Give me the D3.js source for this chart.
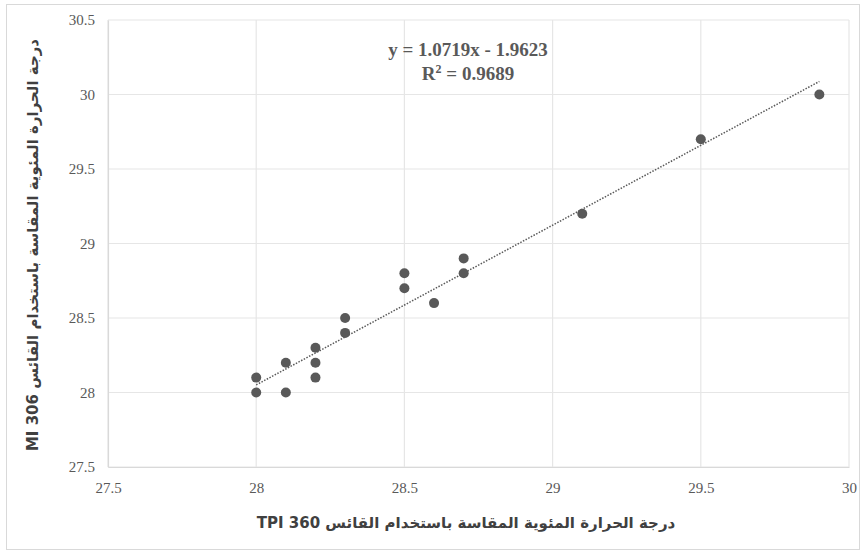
<!DOCTYPE html>
<html>
<head>
<meta charset="utf-8">
<script src="https://cdn.jsdelivr.net/npm/d3@7"></script>
<style>
  body { margin: 0; background: #fff; }
</style>
</head>
<body>
<div id="chart"></div>
<script>
// data
var tpi = [28, 28, 28.1, 28.1, 28.2, 28.2, 28.2, 28.3, 28.3, 28.5, 28.5, 28.6, 28.7, 28.7, 29.1, 29.5, 29.9];
var mi  = [28, 28.1, 28, 28.2, 28.1, 28.2, 28.3, 28.4, 28.5, 28.7, 28.8, 28.6, 28.8, 28.9, 29.2, 29.7, 30];
var xTicks = [27.5, 28, 28.5, 29, 29.5, 30];
var yTicks = [27.5, 28, 28.5, 29, 29.5, 30, 30.5];
var slope = 1.0719, intercept = -1.9623;
var eqText = "y = 1.0719x - 1.9623";
var r2Text = "0.9689";
var xTitle = "درجة الحرارة المئوية المقاسة باستخدام القائس TPI 360";
var yTitle = "درجة الحرارة المئوية المقاسة باستخدام القائس MI 306";

var svgWidth = 865, svgHeight = 551;
var margin = {top: 20, right: 16, bottom: 84, left: 108};
var chartWidth = svgWidth - margin.left - margin.right;
var chartHeight = svgHeight - margin.top - margin.bottom;

var svg = d3.select("#chart").append("svg")
  .attr("width", svgWidth)
  .attr("height", svgHeight);

// outer frame
svg.append("rect")
  .attr("x", 6.5).attr("y", 4.5)
  .attr("width", 853).attr("height", 545)
  .attr("fill", "#fff").attr("stroke", "#d9d9d9");

var chartGroup = svg.append("g")
  .attr("transform", `translate(${margin.left}, ${margin.top})`);

var xScale = d3.scaleLinear().domain([27.5, 30]).range([0, chartWidth]);
var yScale = d3.scaleLinear().domain([27.5, 30.5]).range([chartHeight, 0]);

// gridlines
chartGroup.append("g")
  .selectAll("line").data(xTicks).enter().append("line")
  .attr("x1", d => xScale(d)).attr("x2", d => xScale(d))
  .attr("y1", 0).attr("y2", chartHeight)
  .attr("stroke", "#e6e6e6").attr("stroke-width", 1.2);

chartGroup.append("g")
  .selectAll("line").data(yTicks).enter().append("line")
  .attr("x1", 0).attr("x2", chartWidth)
  .attr("y1", d => yScale(d)).attr("y2", d => yScale(d))
  .attr("stroke", "#e6e6e6").attr("stroke-width", 1.2);

// axes
var xAxis = d3.axisBottom(xScale).tickValues(xTicks).tickSize(0).tickPadding(15).tickFormat(d3.format("~g"));
var yAxis = d3.axisLeft(yScale).tickValues(yTicks).tickSize(0).tickPadding(13).tickFormat(d3.format("~g"));

var gx = chartGroup.append("g")
  .attr("transform", `translate(0, ${chartHeight})`)
  .call(xAxis);
var gy = chartGroup.append("g").call(yAxis);

[gx, gy].forEach(function(g) {
  g.select(".domain").attr("stroke", "#d9d9d9").attr("stroke-width", 1.2);
  g.selectAll("text")
    .attr("fill", "#595959")
    .style("font-family", "'Liberation Serif', 'DejaVu Serif', serif")
    .style("font-size", "15px");
});

// trendline
var xMin = d3.min(tpi), xMax = d3.max(tpi);
chartGroup.append("line")
  .attr("x1", xScale(xMin)).attr("y1", yScale(slope * xMin + intercept))
  .attr("x2", xScale(xMax)).attr("y2", yScale(slope * xMax + intercept))
  .attr("stroke", "#595959")
  .attr("stroke-width", 1.5)
  .attr("stroke-dasharray", "1.5,1.5");

// points
chartGroup.selectAll("circle")
  .data(tpi)
  .enter()
  .append("circle")
  .attr("cx", d => xScale(d))
  .attr("cy", (d, i) => yScale(mi[i]))
  .attr("r", 5)
  .attr("fill", "#595959");

// equation label
svg.append("text")
  .attr("x", 468).attr("y", 56)
  .attr("text-anchor", "middle")
  .attr("fill", "#595959")
  .style("font-family", "'Liberation Serif', 'DejaVu Serif', serif")
  .style("font-size", "19px")
  .style("font-weight", "bold")
  .text(eqText);

var r2 = svg.append("text")
  .attr("x", 468).attr("y", 80)
  .attr("text-anchor", "middle")
  .attr("fill", "#595959")
  .style("font-family", "'Liberation Serif', 'DejaVu Serif', serif")
  .style("font-size", "19px")
  .style("font-weight", "bold");
r2.append("tspan").text("R");
r2.append("tspan").attr("dy", -7).style("font-size", "12px").text("2");
r2.append("tspan").attr("dy", 7).text(" = " + r2Text);

// axis titles (right-to-left)
svg.append("text")
  .attr("x", 466).attr("y", 528)
  .attr("text-anchor", "middle")
  .attr("direction", "rtl")
  .attr("fill", "#404040")
  .style("font-family", "'DejaVu Sans', 'Noto Sans', sans-serif")
  .style("font-size", "15px")
  .style("font-weight", "bold")
  .text(xTitle);

svg.append("text")
  .attr("transform", "translate(38, 245) rotate(-90)")
  .attr("text-anchor", "middle")
  .attr("direction", "rtl")
  .attr("fill", "#404040")
  .style("font-family", "'DejaVu Sans', 'Noto Sans', sans-serif")
  .style("font-size", "15px")
  .style("font-weight", "bold")
  .text(yTitle);
</script>
</body>
</html>
